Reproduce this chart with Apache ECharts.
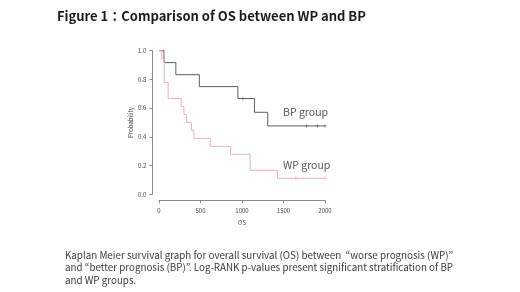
<!DOCTYPE html>
<html><head><meta charset="utf-8">
<script src="https://cdn.jsdelivr.net/npm/echarts@6/dist/echarts.min.js"></script>
<style>html,body{margin:0;padding:0;background:#fff}#c{width:520px;height:292px}</style>
</head><body><div id="c"></div>
<script>
// Data
const bpTime = [0, 60, 203, 486, 950, 1150, 1310, 2000];
const bpSurv = [1.0, 0.917, 0.833, 0.75, 0.667, 0.571, 0.476, 0.476];
const bpCensorTime = [1010, 1779, 1907, 2000];
const bpCensorSurv = [0.667, 0.476, 0.476, 0.476];

const wpTime = [0, 33, 62, 110, 268, 300, 333, 390, 420, 618, 863, 1098, 1428, 2000];
const wpSurv = [1.0, 0.944, 0.778, 0.667, 0.611, 0.556, 0.5, 0.444, 0.389, 0.333, 0.278, 0.167, 0.111, 0.111];
const wpCensorTime = [1650, 2000];
const wpCensorSurv = [0.111, 0.111];

const xTicks = [0, 500, 1000, 1500, 2000];
const yTicks = [0.0, 0.2, 0.4, 0.6, 0.8, 1.0];

const titleText = 'Figure 1：Comparison of OS between WP and BP';
const captionText = 'Kaplan Meier survival graph for overall survival (OS) between  “worse prognosis (WP)”\nand “better prognosis (BP)”. Log-RANK p-values present significant stratification of BP\nand WP groups.';
const bpLabel = 'BP group';
const wpLabel = 'WP group';

const zip = (a, b) => a.map((v, i) => [v, b[i]]);
const plusPath = 'path://M1.6,0 h0.8 v4 h-0.8z M0,1.6 h4 v0.8 h-4z';
const axisCol = '#8a8a8a';
const txtCol = '#444';
const font = '"Noto Sans CJK JP", "Noto Sans", sans-serif';

const chart = echarts.init(document.getElementById('c'), null, {renderer: 'canvas'});
chart.setOption({
  animation: false,
  backgroundColor: '#fff',
  textStyle: {fontFamily: font},
  title: [
    {text: titleText, left: 57, top: 7, padding: 0,
     textStyle: {fontFamily: font, fontWeight: 'bold', fontSize: 13, color: '#1a1a1a', lineHeight: 18}},
    {text: captionText, left: 65, top: 249, padding: 0,
     textStyle: {fontFamily: font, fontWeight: 'normal', fontSize: 9.8, color: '#3a3a3a', lineHeight: 12.5}}
  ],
  graphic: [
    {type: 'text', left: 283, top: 107, style: {text: bpLabel, fontFamily: font, fontSize: 10.5, fill: '#555'}},
    {type: 'text', left: 283, top: 160, style: {text: wpLabel, fontFamily: font, fontSize: 10.5, fill: '#555'}}
  ],
  grid: {left: 159, width: 166, top: 50.7, height: 143.6},
  xAxis: {
    type: 'value', min: 0, max: 2000, interval: 500, offset: 6,
    axisLine: {show: true, onZero: false, lineStyle: {color: axisCol, width: 1}},
    axisTick: {show: true, length: 3, lineStyle: {color: axisCol}},
    axisLabel: {fontSize: 6, color: txtCol, margin: 7, customValues: xTicks, formatter: v => String(v)},
    splitLine: {show: false},
    name: 'OS', nameLocation: 'middle', nameGap: 19,
    nameTextStyle: {fontSize: 6, color: txtCol}
  },
  yAxis: {
    type: 'value', min: 0, max: 1, interval: 0.2, offset: 6.6,
    axisLine: {show: true, onZero: false, lineStyle: {color: axisCol, width: 1}},
    axisTick: {show: true, length: 3, lineStyle: {color: axisCol}},
    axisLabel: {fontSize: 6, color: txtCol, margin: 6, customValues: yTicks, formatter: v => Number(v).toFixed(1)},
    splitLine: {show: false},
    name: 'Probability', nameLocation: 'middle', nameGap: 19, nameRotate: 90,
    nameTextStyle: {fontSize: 6, color: txtCol}
  },
  series: [
    {type: 'line', step: 'end', data: zip(bpTime, bpSurv), symbol: 'none', clip: false,
     lineStyle: {color: '#5e5e5e', width: 1}},
    {type: 'line', step: 'end', data: zip(wpTime, wpSurv), symbol: 'none', clip: false,
     lineStyle: {color: '#ecb0b8', width: 1}},
    {type: 'scatter', data: zip(bpCensorTime, bpCensorSurv), symbol: plusPath, symbolSize: 4, clip: false,
     itemStyle: {color: '#7a7a7a'}},
    {type: 'scatter', data: zip(wpCensorTime, wpCensorSurv), symbol: plusPath, symbolSize: 4, clip: false,
     itemStyle: {color: '#ecb0b8'}}
  ]
});
</script></body></html>
